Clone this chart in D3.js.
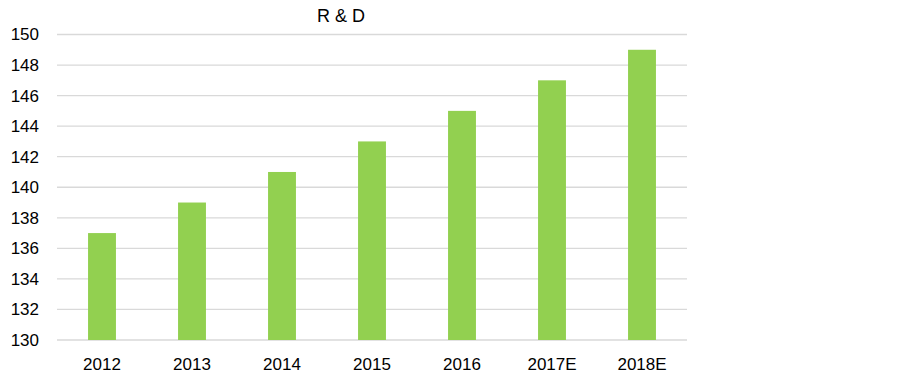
<!DOCTYPE html>
<html><head><meta charset="utf-8">
<script src="https://cdn.jsdelivr.net/npm/d3@7"></script>
<style>body{margin:0;background:#fff}svg{display:block}</style>
</head><body>
<script>
const categories = ["2012","2013","2014","2015","2016","2017E","2018E"];
const values = [137,139,141,143,145,147,149];
const yTicks = [130,132,134,136,138,140,142,144,146,148,150];
const title = "R & D";

(function(){
const W = 903, H = 376;
const mLeft = 57, mRight = 687, mTop = 34.5, mBottom = 340;
const svg = d3.select("body").append("svg").attr("width", W).attr("height", H);
const font = "'Liberation Sans', Arial, sans-serif";

const x = d3.scaleBand().domain(categories).range([mLeft, mRight]).paddingInner(0.69).paddingOuter(0.345);
const y = d3.scaleLinear().domain([130,150]).range([mBottom, mTop]);

// gridlines
svg.append("g").selectAll("line").data(yTicks).join("line")
  .attr("x1", mLeft).attr("x2", mRight)
  .attr("y1", d => y(d)).attr("y2", d => y(d))
  .attr("stroke", "#d9d9d9").attr("stroke-width", 1.3);

// bars
svg.append("g").selectAll("rect").data(values).join("rect")
  .attr("x", (d,i) => x(categories[i]))
  .attr("width", x.bandwidth())
  .attr("y", d => y(d))
  .attr("height", d => y(130) - y(d))
  .attr("fill", "#92d050");

// y axis
const yAxis = d3.axisLeft(y).tickValues(yTicks).tickSize(0).tickPadding(0).tickFormat(d3.format("d"));
const ya = svg.append("g").attr("transform", `translate(${mLeft-18},0)`).call(yAxis);
ya.select(".domain").remove();
ya.selectAll("text").attr("font-family", font).attr("font-size", 17).attr("fill", "#000");

// x axis
const xAxis = d3.axisBottom(x).tickSize(0).tickPadding(0);
const xa = svg.append("g").attr("transform", `translate(0,${mBottom+18})`).call(xAxis);
xa.select(".domain").remove();
xa.selectAll("text").attr("font-family", font).attr("font-size", 17).attr("fill", "#000");

// title
svg.append("text").attr("x", 341).attr("y", 22).attr("text-anchor", "middle")
  .attr("font-family", font).attr("font-size", 18).attr("fill", "#000").text(title);
})();
</script>
</body></html>
